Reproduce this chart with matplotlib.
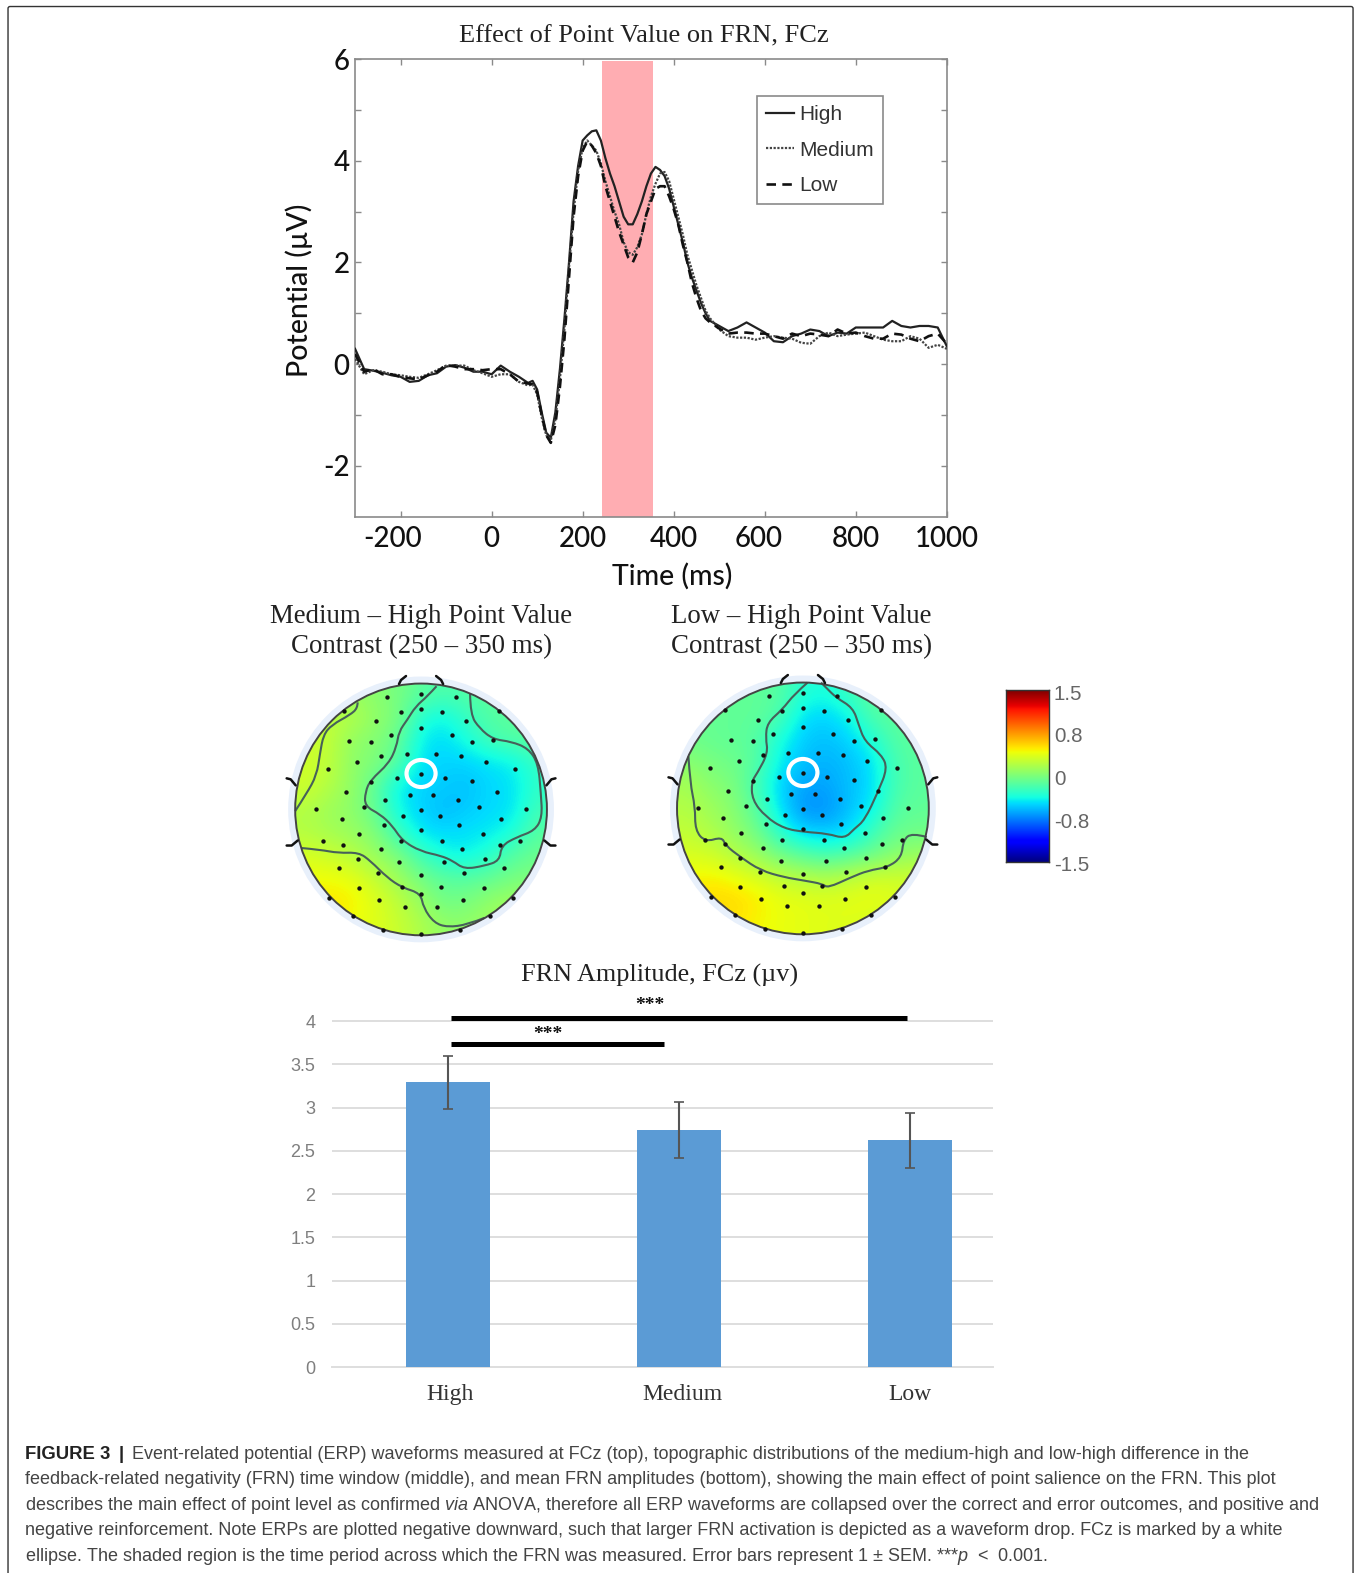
import matplotlib
matplotlib.use("Agg")
import matplotlib.pyplot as plt
import numpy as np
from matplotlib.patches import Circle, Ellipse, FancyBboxPatch, PathPatch
from matplotlib.path import Path
from matplotlib.transforms import ScaledTranslation

W, H = 1356, 1573
S = 1.003
plt.rcParams["mathtext.fontset"] = "custom"
plt.rcParams["mathtext.it"] = "Liberation Sans:italic"
plt.rcParams["mathtext.rm"] = "Liberation Sans"
plt.rcParams["axes.unicode_minus"] = False

# ---------- waveform data ----------
TIME = [-300,-280,-260,-240,-220,-200,-180,-160,-140,-120,-100,-80,-60,-40,-20,0,20,40,60,80,
        90,100,110,120,130,140,150,160,170,180,190,200,210,220,230,240,250,260,270,280,290,300,
        310,320,330,340,350,360,370,380,390,400,410,420,430,440,450,460,470,480,
        500,520,540,560,580,600,620,640,660,680,700,720,740,760,780,800,820,840,860,880,900,920,940,960,980,1000]
HIGH = [.3,-.1,-.13,-.17,-.22,-.25,-.35,-.33,-.22,-.18,-.05,-.02,-.07,-.15,-.15,-.2,-.03,-.15,-.25,-.37,
        -.33,-.5,-.95,-1.35,-1.45,-.95,-.1,.9,2.0,3.2,3.9,4.4,4.5,4.58,4.6,4.4,4.05,3.75,3.5,3.2,2.9,2.75,
        2.75,2.95,3.2,3.5,3.75,3.88,3.82,3.7,3.45,3.1,2.75,2.4,2.0,1.7,1.45,1.2,1.0,.85,
        .75,.65,.72,.82,.72,.62,.45,.43,.55,.6,.68,.65,.55,.62,.6,.72,.72,.72,.72,.85,.75,.72,.75,.75,.72,.35]
MEDIUM = [.1,-.2,-.12,-.15,-.2,-.22,-.25,-.27,-.2,-.12,-.03,-.03,-.03,-.12,-.18,-.25,-.2,-.2,-.35,-.42,
        -.4,-.6,-1.05,-1.4,-1.5,-1.1,-.3,.7,1.9,3.0,3.8,4.25,4.4,4.3,4.2,3.95,3.6,3.3,3.0,2.75,2.4,2.2,
        2.15,2.3,2.55,2.95,3.3,3.55,3.75,3.78,3.6,3.25,2.9,2.55,2.15,1.85,1.55,1.3,1.05,.9,
        .68,.55,.52,.52,.48,.52,.55,.52,.5,.42,.4,.55,.62,.55,.58,.6,.62,.55,.48,.45,.45,.55,.5,.32,.38,.3]
LOW = [.2,-.15,-.1,-.2,-.2,-.25,-.28,-.3,-.22,-.15,-.02,-.05,-.1,-.1,-.12,-.1,-.1,-.2,-.35,-.38,
        -.4,-.55,-1.0,-1.4,-1.55,-1.2,-.45,.5,1.7,2.9,3.7,4.2,4.38,4.3,4.15,3.9,3.5,3.2,2.9,2.6,2.35,2.1,
        2.0,2.2,2.55,2.95,3.2,3.45,3.5,3.5,3.3,3.05,2.75,2.35,2.0,1.6,1.3,1.05,.9,.82,
        .7,.6,.62,.62,.6,.6,.55,.5,.6,.55,.6,.58,.55,.68,.6,.62,.55,.5,.5,.6,.58,.5,.45,.55,.6,.4]
FRN_WINDOW = [242, 354]
TIME_TICKS = [-200, 0, 200, 400, 600, 800, 1000]
TIME_LABELS = ["-200", "0", "200", "400", "600", "800", "1000"]
POT_TICKS = [-2, -1, 0, 1, 2, 3, 4, 5, 6]
POT_LABELS = ["-2", "", "0", "", "2", "", "4", "", "6"]

# ---------- scalp data (head radius = 375 units, y grows downward as read) ----------
ELEC_X = [349,452,554,220,390,452,513,683,318,586,452,362,542,237,301,603,666,408,496,333,571,261,643,173,732,
          452,380,523,301,603,228,676,417,487,343,561,280,624,139,452,765,398,507,214,689,340,564,452,267,637,
          158,218,390,514,686,746,331,573,264,640,385,519,206,697,323,580,452,265,395,509,639,176,726,452,326,577,
          403,499,248,655,337,566,452]
ELEC_Y = [111,103,111,155,157,147,157,155,183,183,205,225,225,243,245,245,241,281,281,288,289,305,305,327,327,
          340,353,353,364,363,396,396,404,404,420,420,439,439,447,448,447,467,467,476,476,492,492,507,521,521,
          541,552,541,542,552,541,565,565,594,594,605,605,623,623,637,637,643,680,677,677,680,710,710,699,716,716,
          737,737,766,766,805,805,817]
ELEC_CX, ELEC_CY = 451, 447

FIELD_A = [
 [.10,.10,.10,.05,-.02,-.12,-.18,-.15,-.12,-.12,-.12],
 [.25,.25,.20,.08,.00,-.32,-.40,-.25,-.15,-.12,-.12],
 [.30,.25,.08,.03,-.08,-.42,-.48,-.36,-.20,-.15,-.12],
 [.30,.25,.06,.02,-.14,-.46,-.50,-.50,-.46,-.42,-.26],
 [.30,.20,.08,-.10,-.42,-.50,-.52,-.56,-.48,-.46,-.28],
 [.20,.12,.06,-.08,-.40,-.50,-.58,-.52,-.48,-.46,-.22],
 [.20,.15,.10,.02,-.24,-.46,-.48,-.46,-.44,-.36,-.14],
 [.33,.28,.22,.10,.00,-.22,-.38,-.42,-.30,-.14,-.06],
 [.42,.42,.38,.26,.12,-.03,-.12,-.14,-.10,-.02,.00],
 [.46,.50,.47,.36,.24,.10,-.05,-.02,.08,.12,.12],
 [.44,.46,.42,.36,.28,.18,.08,.08,.12,.18,.18]]
FIELD_B = [
 [-.08,-.08,-.10,-.10,-.14,-.32,-.36,-.24,-.12,-.12,-.12],
 [-.08,-.08,-.10,-.10,-.18,-.46,-.50,-.40,-.16,-.12,-.12],
 [-.05,-.08,-.10,-.14,-.36,-.52,-.56,-.50,-.34,-.14,-.12],
 [.05,-.02,-.05,-.14,-.42,-.56,-.60,-.56,-.46,-.20,-.12],
 [.15,.05,.00,-.22,-.50,-.64,-.64,-.56,-.48,-.20,-.12],
 [.20,.12,.04,-.14,-.46,-.70,-.70,-.56,-.44,-.15,-.10],
 [.25,.18,.08,-.04,-.32,-.52,-.55,-.50,-.24,-.08,-.05],
 [.33,.30,.20,.10,-.04,-.14,-.22,-.15,-.08,.04,.10],
 [.44,.46,.40,.33,.24,.20,.17,.22,.30,.30,.30],
 [.50,.54,.54,.48,.40,.38,.36,.38,.40,.36,.30],
 [.50,.52,.50,.44,.40,.38,.36,.36,.33,.30,.30]]

ISO_A = [
 [(76,452),(110,400),(140,345),(150,280),(160,225),(185,195),(240,165),(262,145),(262,128)],
 [(497,80),(470,110),(435,140),(410,180),(385,215),(378,260),(355,310),(300,360),(285,395),(283,437),(330,462),
  (365,495),(395,540),(450,572),(510,585),(545,600),(580,625),(640,615),(685,600),(690,555),(735,530),(790,510),
  (812,470),(808,400),(800,310),(770,265),(720,245),(665,238),(625,205),(598,165),(597,103)],
 [(95,562),(150,567),(205,577),(265,575),(300,600),(350,650),(395,680),(450,697),(458,740),(490,785),(530,798),(590,790),(640,770)],
]
ISO_B = [
 [(470,70),(430,105),(395,150),(350,190),(345,235),(352,280),(320,340),(303,365),(305,420),(345,470),(400,505),
  (460,515),(530,520),(580,535),(610,505),(640,480),(680,395),(708,325),(690,285),(640,245),(622,195),(605,145),(555,115),(525,85),(510,70)],
 [(115,290),(120,370),(135,440),(135,510),(165,545),(215,530),(225,555),(270,590),(330,630),(400,650),(460,660),
  (515,670),(530,682),(600,650),(650,630),(710,620),(750,590),(755,540),(780,518),(825,530)],
]
CBAR_TICKS = [1.5, 0.75, 0, -0.75, -1.5]
CBAR_LABELS = ["1.5", "0.8", "0", "-0.8", "-1.5"]

# ---------- bar data ----------
CATEGORIES = ["High", "Medium", "Low"]
AMPLITUDE = [3.29, 2.74, 2.62]
SEM = [0.31, 0.32, 0.315]
AMP_TICKS = [0, 0.5, 1, 1.5, 2, 2.5, 3, 3.5, 4]
AMP_LABELS = ["0", "0.5", "1", "1.5", "2", "2.5", "3", "3.5", "4"]

CAPTION = [
 "Event-related potential (ERP) waveforms measured at FCz (top), topographic distributions of the medium-high and low-high difference in the",
 "feedback-related negativity (FRN) time window (middle), and mean FRN amplitudes (bottom), showing the main effect of point salience on the FRN. This plot",
 r"describes the main effect of point level as confirmed $\mathit{via}$ ANOVA, therefore all ERP waveforms are collapsed over the correct and error outcomes, and positive and",
 "negative reinforcement. Note ERPs are plotted negative downward, such that larger FRN activation is depicted as a waveform drop. FCz is marked by a white",
 r"ellipse. The shaded region is the time period across which the FRN was measured. Error bars represent 1 $\pm$ SEM. ***$\mathit{p}$  <  0.001.",
]

fig = plt.figure(figsize=(W/100, H/100), dpi=100, facecolor="white")

def axes_px(l, t, r, b, **kw):
    return fig.add_axes([l*S/W, 1-b*S/H, (r-l)*S/W, (b-t)*S/H], **kw)

bg = fig.add_axes([0, 0, 1, 1])
bg.set_xlim(0, W/S); bg.set_ylim(H/S, 0); bg.axis("off")
bg.add_patch(FancyBboxPatch((8, 6.5), 1341, 1610, boxstyle="round,pad=0,rounding_size=2",
                            fc="white", ec="#333333", lw=1.0, clip_on=True))
SERIF = "Liberation Serif"
CAL = "Lato"
def t(x, y, s, **kw):
    kw.setdefault("ha", "center"); kw.setdefault("va", "center")
    return bg.text(x, y+2.5, s, **kw)

t(642, 34, "Effect of Point Value on FRN, FCz", family=SERIF, fontsize=19, color="#222222")
t(420, 612, "Medium \u2013 High Point Value", family=SERIF, fontsize=19.4, color="#222222")
t(420, 642, "Contrast (250 \u2013 350 ms)", family=SERIF, fontsize=19.4, color="#222222")
t(799, 612, "Low \u2013 High Point Value", family=SERIF, fontsize=19.4, color="#222222")
t(799, 642, "Contrast (250 \u2013 350 ms)", family=SERIF, fontsize=19.4, color="#222222")
t(658, 970, "FRN Amplitude, FCz (\u00b5v)", family=SERIF, fontsize=18.8, color="#222222")

# ---------- waveform ----------
ax = axes_px(354, 59, 944, 515)
ax.set_xlim(-300, 1000); ax.set_ylim(-3, 6)
ax.axvspan(FRN_WINDOW[0], FRN_WINDOW[1], ymax=0.997, color="#ffadb2", lw=0, zorder=1)
ax.plot(TIME, HIGH, color="#222222", lw=1.6, ls="-", label="High", zorder=3)
ax.plot(TIME, MEDIUM, color="#444444", lw=1.6, ls=(0, (1, 0.7)), label="Medium", zorder=3)
ax.plot(TIME, LOW, color="#111111", lw=1.9, ls=(0, (3.6, 2.4)), label="Low", zorder=3)
ax.set_xticks(TIME_TICKS); ax.set_xticklabels(TIME_LABELS)
ax.set_yticks(POT_TICKS); ax.set_yticklabels(POT_LABELS)
ax.tick_params(direction="in", top=True, right=True, length=4, width=1, color="#8a8a8a",
               labelsize=20, labelcolor="#111111")
for lab in ax.get_xticklabels() + ax.get_yticklabels():
    lab.set_family(CAL); lab.set_fontweight(500)
ax.tick_params(axis="x", pad=7); ax.tick_params(axis="y", pad=4)
X_SHIFT = {"-200": -8, "600": -6}
for lab, v in zip(ax.get_xticklabels(), TIME_TICKS):
    dx = X_SHIFT.get(str(v), 0)
    if dx:
        lab.set_transform(lab.get_transform() + ScaledTranslation(dx/100, 0, fig.dpi_scale_trans))
for sp in ax.spines.values():
    sp.set_color("#8a8a8a"); sp.set_linewidth(1.2)
t(670, 572, "Time (ms)", family=CAL, fontweight=500, fontsize=20.5, color="#111111")
t(298, 287, "Potential (\u00b5V)", family=CAL, fontweight=500, fontsize=20.5, rotation=90, color="#111111")
leg = ax.legend(loc="upper left", bbox_to_anchor=((755-354)/590, 1-(96-59)/456), borderaxespad=0,
                fancybox=False, framealpha=1, edgecolor="#8a8a8a",
                prop={"family": "Liberation Sans", "size": 15}, labelspacing=0.8,
                handlelength=1.35, handletextpad=0.25, borderpad=0.42)
leg.get_frame().set_linewidth(1.2)
for txt in leg.get_texts():
    txt.set_color("#333333")

# ---------- scalp maps ----------
def scalp(cx, cy, R, field, isos, ox, oy):
    a = axes_px(cx-150, cy-150, cx+150, cy+150)
    a.set_xlim(-150, 150); a.set_ylim(150, -150); a.axis("off")
    a.add_patch(Circle((0, 0), R+7, fc="#e8f0fb", ec="none", zorder=0))
    im = a.imshow(field, cmap="jet", vmin=-1.5, vmax=1.5, extent=(-R, R, R, -R),
                  interpolation="bicubic", zorder=1, aspect="auto")
    im.set_clip_path(Circle((0, 0), R, transform=a.transData))
    k = R / 375
    for iso in isos:
        pts = (np.array(iso, float) - [ox, oy]) * k
        verts = [pts[0]]
        for i in range(1, len(pts)-1):
            verts += [pts[i], (pts[i]+pts[i+1])/2]
        verts[-1] = pts[-1]
        codes = [Path.MOVETO] + [Path.CURVE3]*(len(verts)-1)
        a.add_patch(PathPatch(Path(verts, codes), fc="none", ec="#46605a", lw=1.5, zorder=2))
    a.add_patch(Circle((0, 0), R, fc="none", ec="#444444", lw=1.4, zorder=3))
    a.scatter((np.array(ELEC_X)-ELEC_CX)*k, (np.array(ELEC_Y)-ELEC_CY)*k, s=10, c="#111111", lw=0, zorder=4)
    a.add_patch(Ellipse((0, (340-ELEC_CY)*k), 29, 27, fc="none", ec="white", lw=3, zorder=5))
    for sx in (-1, 1):
        a.plot([sx*22, sx*20, sx*15], [-125, -129, -133], color="#111111", lw=1.8, zorder=3, solid_capstyle="round")
        a.plot([sx*125, sx*130, sx*134], [-24, -30, -31], color="#111111", lw=1.8, zorder=3, solid_capstyle="round")
        a.plot([sx*123, sx*129, sx*134], [31, 36, 36], color="#111111", lw=1.8, zorder=3, solid_capstyle="round")

scalp(419.8, 807, 125.5, FIELD_A, ISO_A, 451, 447)
scalp(800.5, 806, 125.5, FIELD_B, ISO_B, 456, 445)

cb = axes_px(1003, 688, 1046, 859)
cb.imshow(np.linspace(1.5, -1.5, 256)[:, None], cmap="jet", vmin=-1.5, vmax=1.5, aspect="auto",
          extent=(0, 1, -1.5, 1.5))
cb.set_xticks([]); cb.yaxis.tick_right()
cb.set_yticks(CBAR_TICKS); cb.set_yticklabels(CBAR_LABELS)
cb.tick_params(length=0, pad=3.5, labelsize=14.8, labelcolor="#666666")
for lab in cb.get_yticklabels():
    lab.set_family("Liberation Sans")
    lab.set_transform(lab.get_transform() + ScaledTranslation(0, -2/100, fig.dpi_scale_trans))
for sp in cb.spines.values():
    sp.set_color("#333333"); sp.set_linewidth(1)

# ---------- bars ----------
b = axes_px(331, 1018-17.25, 990, 1363)
b.set_xlim(-0.504, 2.361); b.set_ylim(0, 4.2)
b.set_facecolor("none")
b.bar(range(3), AMPLITUDE, width=0.363, color="#5B9BD5", zorder=3,
      yerr=SEM, error_kw=dict(ecolor="#555555", elinewidth=1.5, capsize=3.3, capthick=1.2, zorder=4))
b.set_yticks(AMP_TICKS); b.set_yticklabels(AMP_LABELS)
b.set_xticks(range(3)); b.set_xticklabels(CATEGORIES)
b.grid(axis="y", color="#dedede", lw=1.4, zorder=0)
b.tick_params(axis="both", length=0)
b.tick_params(axis="y", labelsize=13, labelcolor="#7f7f7f", pad=12)
b.tick_params(axis="x", labelsize=17, labelcolor="#333333", pad=12.5)
X_CAT_SHIFT = [2, 3, 0]
for lab, dx in zip(b.get_xticklabels(), X_CAT_SHIFT):
    lab.set_family(SERIF)
    lab.set_transform(lab.get_transform() + ScaledTranslation(dx/100, 0, fig.dpi_scale_trans))
for lab in b.get_yticklabels():
    lab.set_family("Liberation Sans")
for n, sp in b.spines.items():
    sp.set_visible(n == "bottom")
b.spines["bottom"].set_color("#dedede"); b.spines["bottom"].set_linewidth(1.4)
b.plot([0.012, 1.99], [4.03, 4.03], color="black", lw=3.6, solid_capstyle="butt", clip_on=False, zorder=5)
b.plot([0.012, 0.935], [3.73, 3.73], color="black", lw=3.6, solid_capstyle="butt", clip_on=False, zorder=5)
t(648, 1000, "***", family=SERIF, fontsize=14, fontweight="bold", color="#111111")
t(546, 1029, "***", family=SERIF, fontsize=14, fontweight="bold", color="#111111")

# ---------- caption ----------
CAPFS = 12.95
t(25, 1448, "FIGURE 3", family="Liberation Sans", fontweight="bold", fontsize=13.3, ha="left", color="#222222")
t(121, 1448, "|", family="Liberation Sans", fontweight="bold", fontsize=13.3, ha="center", color="#222222")
ys = [1448, 1473, 1498, 1523.5, 1549]
xs = [132, 25, 25, 25, 25]
for x, y, s in zip(xs, ys, CAPTION):
    t(x, y, s, family="Liberation Sans", fontsize=CAPFS, ha="left", color="#444444")

fig.savefig("out.png", dpi=100)
